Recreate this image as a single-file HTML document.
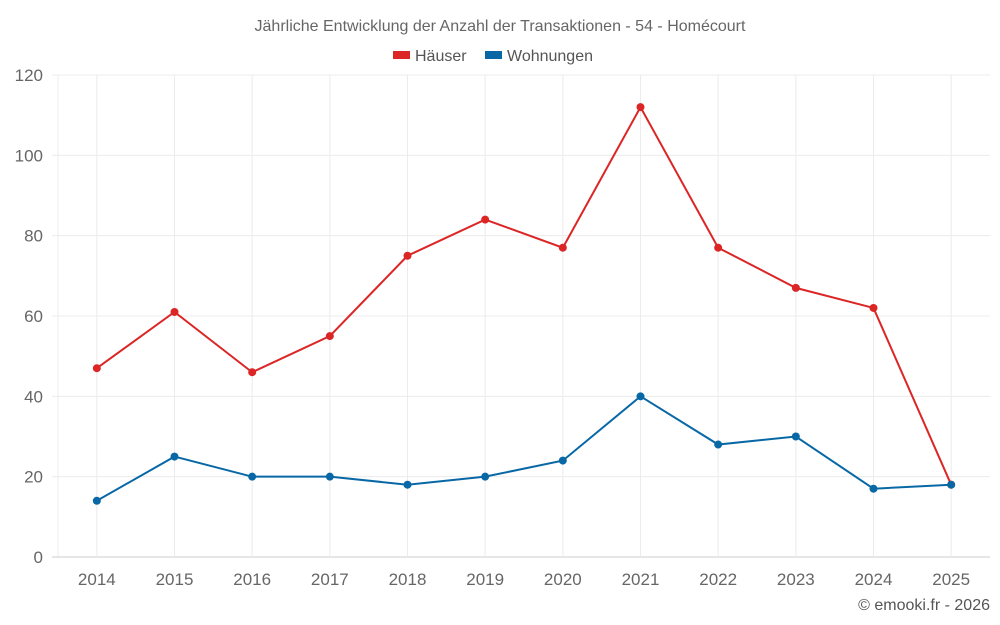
<!DOCTYPE html>
<html><head><meta charset="utf-8">
<style>
html,body{margin:0;padding:0;background:#fff;}
svg{display:block;font-family:"Liberation Sans",sans-serif;}
</style></head>
<body>
<svg id="chart" width="1000" height="625" viewBox="0 0 1000 625">
<text x="500" y="31" text-anchor="middle" font-size="16" fill="#666">Jährliche Entwicklung der Anzahl der Transaktionen - 54 - Homécourt</text>
<g>
<rect x="393" y="51" width="17" height="8" fill="#dc2626"></rect>
<text x="415" y="61" font-size="16" fill="#555">Häuser</text>
</g>
<g>
<rect x="485" y="51" width="17" height="8" fill="#0868a6"></rect>
<text x="507" y="61" font-size="16" fill="#555">Wohnungen</text>
</g>
<g id="grid"></g>
<g id="axes"></g>
<g id="series"></g>
<text x="990" y="610" text-anchor="end" font-size="16" fill="#555">© emooki.fr - 2026</text>
</svg>
<script>
const years = [2014,2015,2016,2017,2018,2019,2020,2021,2022,2023,2024,2025];
const haeuser = [47,61,46,55,75,84,77,112,77,67,62,18];
const wohnungen = [14,25,20,20,18,20,24,40,28,30,17,18];
const yTicks = [0,20,40,60,80,100,120];

const NS = "http://www.w3.org/2000/svg";
const L = 58, R = 990, T = 75, B = 557, yMax = 120;
const band = (R - L) / years.length;
const xPos = i => L + band * (i + 0.5);
const yPos = v => B - (v / yMax) * (B - T);
function mk(tag, attrs, parent) {
  const e = document.createElementNS(NS, tag);
  for (const k in attrs) e.setAttribute(k, attrs[k]);
  parent.appendChild(e);
  return e;
}
const grid = document.getElementById('grid');
const axes = document.getElementById('axes');
const series = document.getElementById('series');

const leftLine = mk('line', {x1: L, x2: L, y1: T, y2: B, stroke: '#ececec', 'stroke-width': 1}, grid);



yTicks.forEach(t => {
  const y = yPos(t);
  const g = mk('line', {x1: 52, x2: R, y1: y, y2: y, stroke: t === 0 ? '#ccc' : '#ececec', 'stroke-width': 1}, grid);
  
  
  const tx = mk('text', {x: 43, y: y + 6, 'text-anchor': 'end', 'font-size': 17, fill: '#666'}, axes);
  tx.textContent = t;
  
  
});
years.forEach((yr, i) => {
  const g = mk('line', {x1: xPos(i), x2: xPos(i), y1: T, y2: B, stroke: '#ececec', 'stroke-width': 1}, grid);
  
  
  const tx = mk('text', {x: xPos(i), y: 585, 'text-anchor': 'middle', 'font-size': 17, fill: '#666'}, axes);
  tx.textContent = yr;
  
  
});
function drawSeries(vals, color, name) {
  const pts = vals.map((v, i) => xPos(i) + ',' + yPos(v)).join(' ');
  const pl = mk('polyline', {points: pts, fill: 'none', stroke: color, 'stroke-width': 2}, series);
  
  
  vals.forEach((v, i) => {
    const c = mk('circle', {cx: xPos(i), cy: yPos(v), r: 4, fill: color}, series);
    
    
  });
}
drawSeries(haeuser, '#dc2626', 'haeuser');
drawSeries(wohnungen, '#0868a6', 'wohnungen');
</script>
</body></html>
